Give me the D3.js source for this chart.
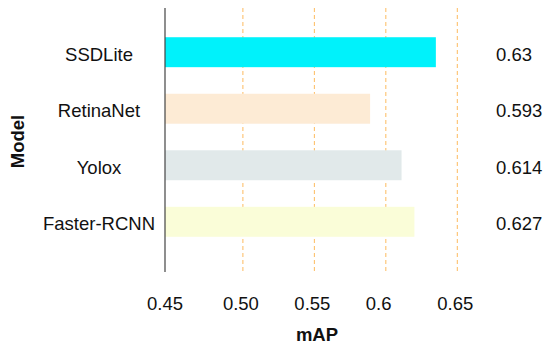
<!DOCTYPE html>
<html>
<head>
<meta charset="utf-8">
<script src="https://cdn.jsdelivr.net/npm/d3@7"></script>
<style>
  body { margin: 0; background: #fff; }
  text { font-family: "Liberation Sans", Arial, sans-serif; fill: #111; }
</style>
</head>
<body>
<div id="container"></div>
<script>
/* DATA */
const models = ["SSDLite", "RetinaNet", "Yolox", "Faster-RCNN"];
const values = [0.635, 0.589, 0.611, 0.620];          // bar lengths as drawn
const valueLabels = ["0.63", "0.593", "0.614", "0.627"];
const colors = ["#00f2fb", "#fdebd5", "#e1e9ea", "#fafdd8"];
const tickValues = [0.45, 0.50, 0.55, 0.60, 0.65];
const tickLabels = ["0.45", "0.50", "0.55", "0.6", "0.65"];

/* CONSTANTS */
const width = 550,
      height = 349,
      plotTop = 8,
      plotBottom = 272;

const svg = d3.select("#container")
  .append("svg")
  .attr("width", width)
  .attr("height", height);

// + SCALES
const xScale = d3.scaleLinear()
  .domain([0.4455, 0.65])
  .range([165, 457.3]);
const x0 = xScale(xScale.domain()[0]);

const yScale = d3.scaleBand()
  .domain(models)
  .range([5, 269])
  .paddingInner(0.47)
  .paddingOuter(0.57);

// grid lines (skip the first tick, the axis line sits there)
svg.append("g")
  .selectAll("line")
  .data(tickValues.slice(1))
  .join("line")
    .attr("x1", d => xScale(d))
    .attr("x2", d => xScale(d))
    .attr("y1", plotTop)
    .attr("y2", plotBottom)
    .attr("stroke", "#fdbb5e")
    .attr("stroke-width", 1)
    .attr("stroke-dasharray", "4,3");

// bars
svg.append("g")
  .selectAll("rect")
  .data(models)
  .join("rect")
    .attr("x", x0)
    .attr("y", d => yScale(d))
    .attr("width", (d, i) => xScale(values[i]) - x0)
    .attr("height", yScale.bandwidth())
    .attr("fill", (d, i) => colors[i]);

// left axis line
svg.append("line")
  .attr("x1", x0)
  .attr("x2", x0)
  .attr("y1", plotTop)
  .attr("y2", plotBottom)
  .attr("stroke", "#444")
  .attr("stroke-width", 1.2);

// category labels
svg.append("g")
  .selectAll("text")
  .data(models)
  .join("text")
    .attr("x", 99)
    .attr("y", d => yScale(d) + yScale.bandwidth() / 2 + 2)
    .attr("dy", "0.35em")
    .attr("text-anchor", "middle")
    .style("font-size", "18.5px")
    .text(d => d);

// value labels
svg.append("g")
  .selectAll("text")
  .data(valueLabels)
  .join("text")
    .attr("x", 496)
    .attr("y", (d, i) => yScale(models[i]) + yScale.bandwidth() / 2 + 2)
    .attr("dy", "0.35em")
    .style("font-size", "18.5px")
    .text(d => d);

// x tick labels (left aligned like the original)
svg.append("g")
  .selectAll("text")
  .data(tickValues)
  .join("text")
    .attr("x", (d, i) => i === 0 ? x0 - 18 : xScale(d) - 20)
    .attr("y", 310)
    .style("font-size", "18.5px")
    .text((d, i) => tickLabels[i]);

// axis titles
svg.append("text")
  .attr("x", 317)
  .attr("y", 341)
  .attr("text-anchor", "middle")
  .style("font-size", "18.5px")
  .style("font-weight", "bold")
  .text("mAP");

svg.append("text")
  .attr("transform", "translate(24,141.5) rotate(-90)")
  .attr("text-anchor", "middle")
  .style("font-size", "18.5px")
  .style("font-weight", "bold")
  .text("Model");
</script>
</body>
</html>
